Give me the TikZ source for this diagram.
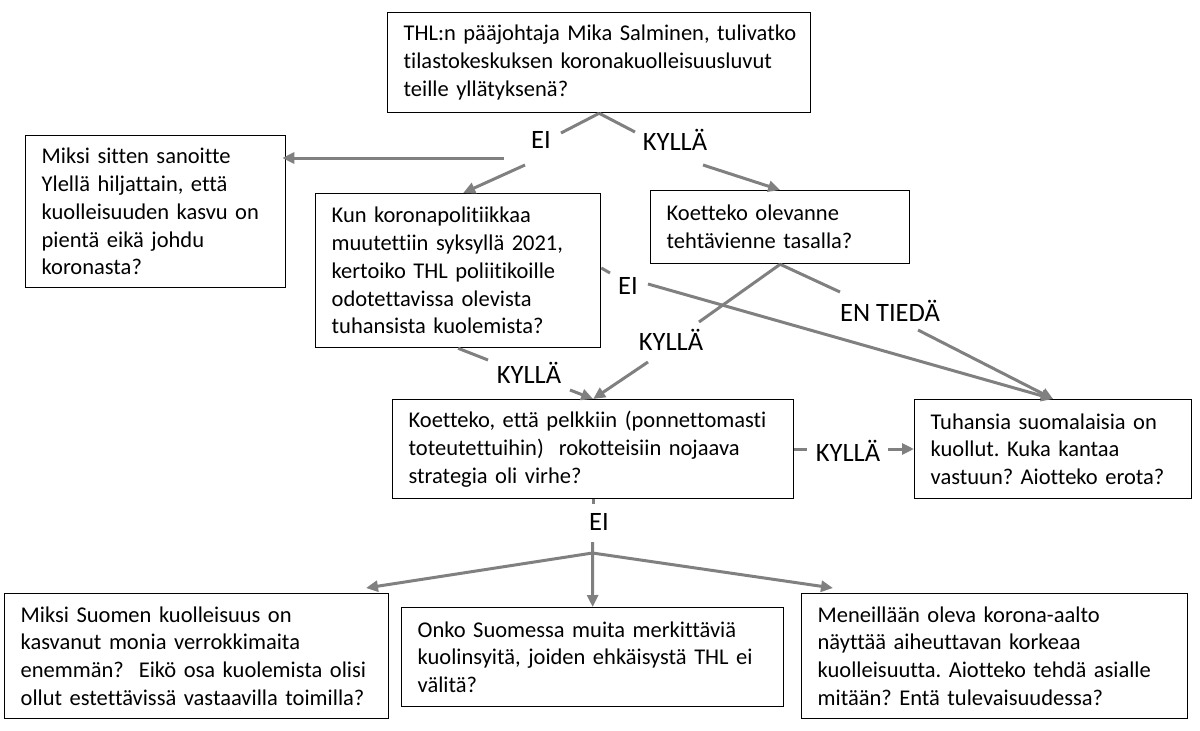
\documentclass[tikz,border=0pt]{standalone}
\usepackage{fontspec}
\setmainfont[Ligatures={NoCommon}]{Carlito}
\usetikzlibrary{arrows.meta}
\definecolor{cgray}{RGB}{128,128,128}
\newcommand\bxfont{\fontsize{22.5}{27.8}\selectfont\frenchspacing}
\newcommand\lbfont{\fontsize{26.5}{30}\selectfont}
\tikzset{
  qbox/.style={draw=black, line width=1.3pt, anchor=north west, align=left,
    inner xsep=16pt, inner ysep=0pt, font=\bxfont},
  lbl/.style={font=\lbfont, inner sep=0pt, text=black},
  con/.style={draw=cgray, line width=3pt},
  arr/.style={con, -{Triangle[length=12pt,width=11pt]}},
}
\begin{document}
\begin{tikzpicture}[x=1pt,y=-1pt]
\useasboundingbox (0,0) rectangle (1200,731);
% boxes
\node[qbox, text width=391pt, minimum height=100pt] (top) at (387,12)
  {\mbox{THL:n pääjohtaja Mika Salminen, tulivatko}\\tilastokeskuksen koronakuolleisuusluvut\\teille yllätyksenä?};
\node[qbox, text width=228pt, minimum height=152pt] (lbox) at (25,135)
  {Miksi sitten sanoitte\\Ylellä hiljattain, että\\kuolleisuuden kasvu on\\pientä eikä johdu\\koronasta?};
\node[qbox, text width=253pt, minimum height=154pt] (b2) at (315,193)
  {Kun koronapolitiikkaa\\muutettiin syksyllä 2021,\\kertoiko THL poliitikoille\\odotettavissa olevista\\tuhansista kuolemista?};
\node[qbox, text width=227pt, minimum height=73pt] (b3) at (650,190)
  {Koetteko olevanne\\tehtävienne tasalla?};
\node[qbox, text width=369pt, minimum height=99pt] (b4) at (392,399)
  {Koetteko, että pelkkiin (ponnettomasti\\toteutettuihin)\ \ rokotteisiin nojaava\\strategia oli virhe?};
\node[qbox, text width=245pt, minimum height=99pt] (b5) at (914,399)
  {Tuhansia suomalaisia on\\kuollut. Kuka kantaa\\vastuun? Aiotteko erota?};
\node[qbox, text width=352pt, minimum height=125pt] (b6) at (4,593)
  {Miksi Suomen kuolleisuus on\\kasvanut monia verrokkimaita\\enemmän?\ \ Eikö osa kuolemista olisi\\\mbox{ollut estettävissä vastaavilla toimilla?}};
\node[qbox, text width=350pt, minimum height=99pt] (b7) at (401,607)
  {Onko Suomessa muita merkittäviä\\kuolinsyitä, joiden ehkäisystä THL ei\\välitä?};
\node[qbox, text width=354pt, minimum height=125pt] (b8) at (801,593)
  {Meneillään oleva korona-aalto\\näyttää aiheuttavan korkeaa\\\mbox{kuolleisuutta. Aiotteko tehdä asialle}\\mitään? Entä tulevaisuudessa?};
% labels
\node[lbl] (eiA) at (541,140) {EI};
\node[lbl] (kyA) at (675,140) {KYLLÄ};
\node[lbl] (eiB) at (628,286) {EI};
\node[lbl] (kyB) at (671,340) {KYLLÄ};
\node[lbl] (enC) at (890,311) {EN TIEDÄ};
\node[lbl] (kyD) at (529,373) {KYLLÄ};
\node[lbl] (kyE) at (848,451) {KYLLÄ};
\node[lbl] (eiF) at (599,522) {EI};
% way points
\coordinate (a1) at (561,133);
\coordinate (a2) at (635,132);
\coordinate (a3) at (504,158);
\coordinate (a4) at (525,165);
\coordinate (a5) at (703,165);
\coordinate (c1) at (699,322);
\coordinate (c2) at (648,362);
\coordinate (c3) at (840,292);
\coordinate (c4) at (918,330);
\coordinate (d1) at (610,273);
\coordinate (d2) at (648,284);
\coordinate (e1) at (488,360);
\coordinate (e2) at (570,390);
\coordinate (f1) at (807,449);
\coordinate (f2) at (888,449);
\coordinate (g1) at (592.5,542);
\coordinate (g2) at (592.5,553);
\coordinate (g3) at (366,588);
\coordinate (g4) at (833,588);
% connectors
\draw[con] (top.south) -- (a1);
\draw[con] (top.south) -- (a2);
\draw[arr, shorten >=-4pt] (a3) -- (lbox.east |- a3);
\draw[arr] (a4) -- ([xshift=5pt]b2.north);
\draw[arr] (a5) -- (b3.north);
\draw[con] (b3.south) -- (c1);
\draw[arr] (c2) -- (b4.north);
\draw[con] (b3.south) -- (c3);
\draw[arr] (c4) -- (b5.north);
\draw[con] (b2.east |- 0,268) -- (d1);
\draw[arr] (d2) -- (b5.north);
\draw[con] (b2.south) -- (e1);
\draw[arr] (e2) -- (b4.north);
\draw[con] (b4.east |- f1) -- (f1);
\draw[arr] (f2) -- (b5.west |- f2);
\draw[con] (b4.south) -- ++(0,5);
\draw[arr] (g1) -- (b7.north);
\draw[arr] (g2) -- (g3);
\draw[arr] (g2) -- (g4);
\end{tikzpicture}
\end{document}
